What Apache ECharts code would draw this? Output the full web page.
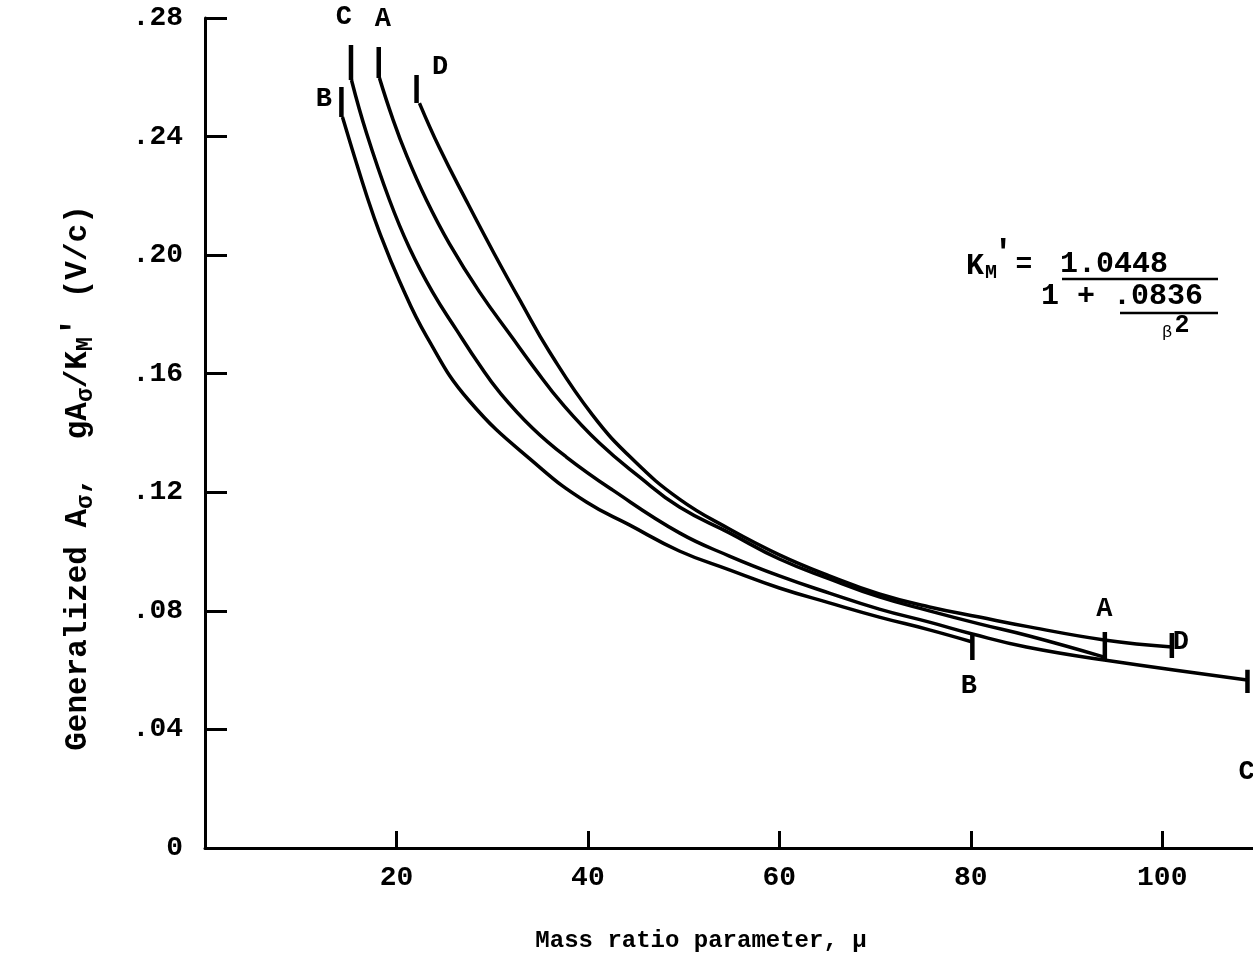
<!DOCTYPE html>
<html>
<head>
<meta charset="utf-8">
<script src="https://cdn.jsdelivr.net/npm/echarts@6/dist/echarts.min.js"></script>
<style>
  html, body { margin: 0; padding: 0; background: #fff; overflow: hidden; }
  #chart { width: 1262px; height: 961px; }
</style>
</head>
<body>
<div id="chart"></div>
<script>
const FONT = '"Liberation Mono", "DejaVu Sans Mono", monospace';

// curves: mass ratio mu, generalized A-sigma
const muA = [18.22, 19.58, 21.04, 23.13, 25.54, 28.67, 32.11, 34.41, 37.34, 41.20, 45.38, 49.56, 54.78, 60.00, 65.22, 70.44, 75.67, 80.89, 86.11, 93.94];
const valA = [0.2598, 0.2463, 0.2338, 0.2186, 0.2038, 0.1876, 0.1721, 0.1619, 0.1498, 0.1366, 0.1252, 0.1150, 0.1063, 0.0975, 0.0908, 0.0847, 0.0800, 0.0756, 0.0715, 0.0644];

const muB = [14.36, 15.40, 16.87, 18.22, 20.31, 23.13, 27.62, 34.94, 39.84, 44.33, 49.55, 54.78, 60.00, 65.22, 70.44, 75.67, 80.16];
const valB = [0.2466, 0.2355, 0.2203, 0.2078, 0.1913, 0.1727, 0.1508, 0.1285, 0.1167, 0.1090, 0.1002, 0.0938, 0.0877, 0.0827, 0.0779, 0.0736, 0.0695];

const muC = [15.30, 16.87, 19.27, 21.36, 23.76, 26.27, 28.67, 30.76, 34.20, 37.75, 42.56, 49.56, 54.78, 60.00, 65.22, 70.44, 75.67, 80.16, 85.80, 93.94, 108.87];
const valC = [0.2591, 0.2412, 0.2186, 0.2024, 0.1876, 0.1748, 0.1630, 0.1538, 0.1417, 0.1319, 0.1208, 0.1063, 0.0985, 0.0918, 0.0860, 0.0806, 0.0762, 0.0722, 0.0678, 0.0634, 0.0567];

const muD = [22.40, 24.49, 27.31, 30.23, 33.05, 35.98, 40.47, 44.65, 49.56, 54.78, 60.00, 65.22, 70.44, 75.67, 80.89, 86.11, 93.94, 101.04];
const valD = [0.2513, 0.2362, 0.2183, 0.2004, 0.1839, 0.1674, 0.1461, 0.1312, 0.1177, 0.1076, 0.0989, 0.0918, 0.0857, 0.0813, 0.0779, 0.0746, 0.0702, 0.0678];

// short vertical strokes at the ends of the curves
const tickX = [14.25, 15.25, 18.15, 22.10, 80.16, 94.00, 101.00, 108.90];
const tickLo = [0.2466, 0.2591, 0.2598, 0.2513, 0.0634, 0.0634, 0.0641, 0.0523];
const tickHi = [0.2567, 0.2709, 0.2702, 0.2608, 0.0725, 0.0729, 0.0725, 0.0601];

// curve letters
const labelText = ['C', 'A', 'D', 'B', 'A', 'D', 'B', 'C'];
const labelX = [14.57, 18.64, 24.60, 12.48, 94.00, 101.98, 79.84, 108.87];
const labelY = [0.2800, 0.2794, 0.2632, 0.2524, 0.0803, 0.0692, 0.0543, 0.0253];

const pairs = (xs, ys) => xs.map((x, i) => [x, ys[i]]);

const curveSeries = [[muA, valA], [muB, valB], [muC, valC], [muD, valD]].map(([xs, ys]) => ({
  type: 'line',
  data: pairs(xs, ys),
  smooth: 0.45,
  showSymbol: false,
  lineStyle: { color: '#000', width: 3.5 },
  silent: true
}));

const tickSeries = tickX.map((x, i) => ({
  type: 'line',
  data: [[x, tickLo[i]], [x, tickHi[i]]],
  showSymbol: false,
  lineStyle: { color: '#000', width: 4.5 },
  silent: true
}));

const chart = echarts.init(document.getElementById('chart'));

chart.setOption({
  backgroundColor: '#fff',
  animation: false,
  grid: { left: 205, top: 18, width: 1053, height: 830 },
  xAxis: {
    type: 'value',
    min: 0,
    max: 110,
    interval: 20,
    axisLine: { lineStyle: { color: '#000', width: 3 } },
    axisTick: { inside: true, length: 17, lineStyle: { color: '#000', width: 3 } },
    axisLabel: {
      margin: 16,
      color: '#000',
      fontFamily: FONT,
      fontWeight: 'bold',
      fontSize: 28,
      formatter: v => (v > 0 && v <= 100 ? String(v) : '')
    },
    splitLine: { show: false }
  },
  yAxis: {
    type: 'value',
    min: 0,
    max: 0.28,
    interval: 0.04,
    axisLine: { lineStyle: { color: '#000', width: 3 } },
    axisTick: { inside: true, length: 22, lineStyle: { color: '#000', width: 3 } },
    axisLabel: {
      margin: 22,
      color: '#000',
      fontFamily: FONT,
      fontWeight: 'bold',
      fontSize: 28,
      formatter: v => (v === 0 ? '0' : v.toFixed(2).replace(/^0/, ''))
    },
    splitLine: { show: false }
  },
  series: [
    ...curveSeries,
    ...tickSeries,
    {
      type: 'scatter',
      data: labelX.map((x, i) => ({ value: [x, labelY[i]], name: labelText[i] })),
      symbolSize: 1,
      itemStyle: { color: '#fff', opacity: 0 },
      label: {
        show: true,
        position: [0, 0],
        align: 'center',
        verticalAlign: 'middle',
        formatter: p => p.name,
        color: '#000',
        opacity: 1,
        textBorderWidth: 0,
        fontFamily: FONT,
        fontWeight: 'bold',
        fontSize: 27
      },
      silent: true
    }
  ],
  graphic: [
    {
      type: 'text',
      x: 78,
      y: 478,
      rotation: Math.PI / 2,
      style: {
        text: '{t|Generalized A}{s|σ}{t|,  gA}{s|σ}{t|/K}{s|M}{p|′}{t| (V/c)}',
        align: 'center',
        verticalAlign: 'middle',
        rich: {
          t: { fontFamily: FONT, fontWeight: 'bold', fontSize: 31, lineHeight: 40, verticalAlign: 'middle', fill: '#000' },
          s: { fontFamily: FONT, fontWeight: 'bold', fontSize: 23, lineHeight: 22, verticalAlign: 'bottom', fill: '#000' },
          p: { fontFamily: FONT, fontSize: 34, fontWeight: 'bold', lineHeight: 24, verticalAlign: 'top', fill: '#000' }
        }
      }
    },
    {
      type: 'text',
      x: 701,
      y: 941,
      style: { text: 'Mass ratio parameter, μ', font: 'bold 24px ' + FONT, align: 'center', verticalAlign: 'middle', fill: '#000' }
    },
    // formula for K_M'
    { type: 'text', x: 966, y: 266, style: { text: 'K', font: 'bold 30px ' + FONT, align: 'left', verticalAlign: 'middle', fill: '#000' } },
    { type: 'text', x: 985, y: 273, style: { text: 'M', font: 'bold 20px ' + FONT, align: 'left', verticalAlign: 'middle', fill: '#000' } },
    { type: 'text', x: 993, y: 253, style: { text: '′', font: 'bold 34px ' + FONT, align: 'left', verticalAlign: 'middle', fill: '#000' } },
    { type: 'text', x: 1024, y: 265, style: { text: '=', font: 'bold 28px ' + FONT, align: 'center', verticalAlign: 'middle', fill: '#000' } },
    { type: 'text', x: 1060, y: 264, style: { text: '1.0448', font: 'bold 30px ' + FONT, align: 'left', verticalAlign: 'middle', fill: '#000' } },
    { type: 'line', shape: { x1: 1062, y1: 279, x2: 1218, y2: 279 }, style: { stroke: '#000', lineWidth: 2.5 } },
    { type: 'text', x: 1041, y: 296, style: { text: '1 + .0836', font: 'bold 30px ' + FONT, align: 'left', verticalAlign: 'middle', fill: '#000' } },
    { type: 'line', shape: { x1: 1120, y1: 313, x2: 1218, y2: 313 }, style: { stroke: '#000', lineWidth: 2.5 } },
    { type: 'text', x: 1167, y: 332, style: { text: 'β', font: '17px ' + FONT, align: 'center', verticalAlign: 'middle', fill: '#000' } },
    { type: 'text', x: 1182, y: 326, style: { text: '2', font: 'bold 25px ' + FONT, align: 'center', verticalAlign: 'middle', fill: '#000' } }
  ]
});

window.addEventListener('resize', chart.resize);
</script>
</body>
</html>
